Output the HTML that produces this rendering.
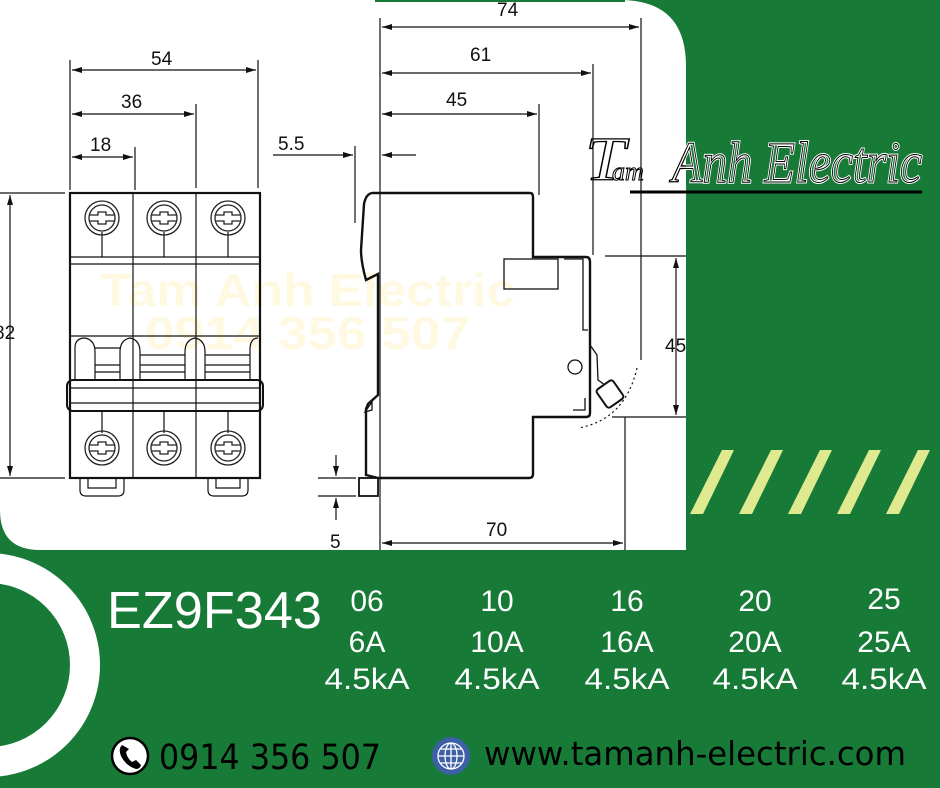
<!DOCTYPE html>
<html><head><meta charset="utf-8"><style>
html,body{margin:0;padding:0;}
body{width:940px;height:788px;overflow:hidden;background:#187a37;position:relative;font-family:"Liberation Sans",sans-serif;}
svg{position:absolute;left:0;top:0;}
</style></head><body>
<svg width="940" height="788" viewBox="0 0 940 788">
<defs>
<clipPath id="wclip"><path d="M0,0 H620 Q686,0 686,66 V550 H40 Q0,550 0,510 Z"/></clipPath>
<clipPath id="gclip"><rect x="686" y="0" width="254" height="300"/></clipPath>
<clipPath id="wlogo"><rect x="0" y="0" width="686" height="300"/></clipPath>
<marker id="a" viewBox="0 0 10 6" refX="10" refY="3" markerWidth="10" markerHeight="6" orient="auto-start-reverse" markerUnits="userSpaceOnUse"><path d="M0,0 L10,3 L0,6 Z" fill="#111"/></marker>
<g id="screw" fill="none" stroke="#222" stroke-width="1.3">
<circle r="17"/><circle r="13"/>
<path d="M-12,-3 H-4 V-6 H4 V-3 H12 M-12,3 H-4 V6 H4 V3 H12"/>
</g>
</defs>
<rect x="0" y="0" width="940" height="788" fill="#187a37"/>
<path d="M0,0 H620 Q686,0 686,66 V550 H40 Q0,550 0,510 Z" fill="#fff"/>
<rect x="375" y="0" width="250" height="2" fill="#187a37"/>

<circle cx="-12" cy="665" r="97" fill="none" stroke="#fff" stroke-width="30"/>

<g fill="#dfe98f">
<polygon points="722,450 734,450 703,514 690,514"/>
<polygon points="771,450 783,450 752,514 739,514"/>
<polygon points="820,450 832,450 801,514 788,514"/>
<polygon points="869,450 881,450 850,514 837,514"/>
<polygon points="918,450 930,450 899,514 886,514"/>
</g>

<g clip-path="url(#wclip)">
<g font-family="Liberation Sans" font-size="46" fill="#ffe680" opacity="0.22" font-weight="bold">
<text x="100" y="306" textLength="415" lengthAdjust="spacingAndGlyphs">Tam Anh Electric</text>
<text x="145" y="349" textLength="325" lengthAdjust="spacingAndGlyphs">0914 356 507</text>
</g>

<g stroke="#111" fill="none" stroke-width="1.2">
<line x1="70" y1="60" x2="70" y2="190"/>
<line x1="258" y1="60" x2="258" y2="188"/>
<line x1="196" y1="104" x2="196" y2="188"/>
<line x1="135" y1="147" x2="135" y2="190"/>
<line x1="72" y1="70" x2="256" y2="70" marker-start="url(#a)" marker-end="url(#a)"/>
<line x1="72" y1="114" x2="194" y2="114" marker-start="url(#a)" marker-end="url(#a)"/>
<line x1="72" y1="157" x2="133" y2="157" marker-start="url(#a)" marker-end="url(#a)"/>
<line x1="0" y1="193" x2="65" y2="193"/>
<line x1="0" y1="478" x2="65" y2="478"/>
<line x1="10" y1="195" x2="10" y2="476" marker-start="url(#a)" marker-end="url(#a)"/>
</g>
<g font-size="19" fill="#111">
<text x="151" y="65">54</text>
<text x="121" y="108">36</text>
<text x="90" y="151">18</text>
<text x="-6" y="339">82</text>
<text x="278" y="150">5.5</text>
<text x="497" y="16">74</text>
<text x="470" y="61">61</text>
<text x="446" y="106">45</text>
<text x="665" y="352">45</text>
<text x="486" y="536">70</text>
<text x="330" y="548">5</text>
</g>

<g stroke="#111" fill="none">
<rect x="70" y="193" width="190" height="285" stroke-width="2.2"/>
<g stroke-width="1.2">
<line x1="133" y1="193" x2="133" y2="478"/>
<line x1="196" y1="193" x2="196" y2="478"/>
<line x1="70" y1="257" x2="260" y2="257"/>
<line x1="70" y1="264" x2="260" y2="264"/>
<line x1="102" y1="232" x2="102" y2="257"/><line x1="164" y1="232" x2="164" y2="257"/><line x1="228" y1="232" x2="228" y2="257"/>
<line x1="102" y1="411" x2="102" y2="433"/><line x1="164" y1="411" x2="164" y2="433"/><line x1="228" y1="411" x2="228" y2="433"/>
<line x1="70" y1="336" x2="260" y2="336"/>
<path d="M75,380 V348 Q75,338 85,338 Q95,340 95,352 V380 M120,380 V352 Q120,340 130,338 Q140,340 140,352 V380 M185,380 V352 Q185,340 195,338 Q205,340 205,352 V380 M250,380 V350 Q250,338 258,338"/>
<path d="M95,348 H120 M95,365 H120 M95,372 H120 M140,355 H185 M140,365 H185 M140,372 H185 M205,355 H250 M205,365 H250 M205,372 H250"/>
<rect x="67" y="380" width="196" height="31" rx="6" stroke-width="2"/>
<line x1="70" y1="388" x2="260" y2="388"/>
<line x1="70" y1="403" x2="260" y2="403"/>
<path d="M80,478 V490 Q80,496 86,496 H118 Q124,496 124,490 V478 M88,478 V488 H116 V478"/>
<path d="M208,478 V490 Q208,496 214,496 H242 Q248,496 248,490 V478 M216,478 V488 H240 V478"/>
</g>
</g>
<use href="#screw" x="102" y="218"/><use href="#screw" x="164" y="218"/><use href="#screw" x="228" y="218"/>
<use href="#screw" x="102" y="448"/><use href="#screw" x="164" y="448"/><use href="#screw" x="228" y="448"/>

<g stroke="#111" fill="none" stroke-width="1.2">
<line x1="380" y1="18" x2="380" y2="550"/>
<line x1="641" y1="18" x2="641" y2="360"/>
<line x1="593" y1="64" x2="593" y2="255"/>
<line x1="539" y1="104" x2="539" y2="195"/>
<line x1="355" y1="146" x2="355" y2="223"/>
<line x1="382" y1="27" x2="639" y2="27" marker-start="url(#a)" marker-end="url(#a)"/>
<line x1="382" y1="73" x2="591" y2="73" marker-start="url(#a)" marker-end="url(#a)"/>
<line x1="382" y1="114" x2="537" y2="114" marker-start="url(#a)" marker-end="url(#a)"/>
<line x1="273" y1="155" x2="353" y2="155" marker-end="url(#a)"/>
<line x1="416" y1="155" x2="382" y2="155" marker-end="url(#a)"/>
<line x1="605" y1="256" x2="690" y2="256"/>
<line x1="612" y1="417" x2="690" y2="417"/>
<line x1="676" y1="258" x2="676" y2="415" marker-start="url(#a)" marker-end="url(#a)"/>
<line x1="625" y1="417" x2="625" y2="550"/>
<line x1="382" y1="543" x2="623" y2="543" marker-start="url(#a)" marker-end="url(#a)"/>
<line x1="318" y1="478" x2="356" y2="478"/>
<line x1="318" y1="496" x2="356" y2="496"/>
<line x1="336" y1="455" x2="336" y2="476" marker-end="url(#a)"/>
<line x1="336" y1="520" x2="336" y2="498" marker-end="url(#a)"/>
<path d="M637,368 Q625,420 578,428" stroke-dasharray="2,3"/>
</g>
<g stroke="#111" fill="none" stroke-width="2.4">
<path d="M372,193 H530 Q533,193 533,197 V257 H586 Q590,257 590,262 V413 Q590,417 586,417 H533 V474 Q533,478 529,478 H378"/>
<path d="M372,193 Q366,194 364,204 L361,250 Q361,262 366,280 L378,274 V395 L368,404 L366,409 V475 L378,478"/>
<rect x="359" y="478" width="19" height="18" stroke-width="1.8"/>
</g>
<g stroke="#111" fill="none" stroke-width="1.3">
<rect x="504" y="259" width="54" height="30"/>
<path d="M564,259 H583 V330 H588"/>
<circle cx="575" cy="367" r="7"/>
<path d="M590,345 L597,355 L598,380 L605,385"/>
<path d="M573,410 H585 V398"/>
<rect x="600" y="383" width="20" height="22" rx="3" transform="rotate(-35 610 394)" stroke-width="2"/>
<path d="M365,412 L372,402 L372,410 Z"/>
</g>
</g>

<!-- logo -->
<line x1="630" y1="192" x2="922" y2="192" stroke="#000" stroke-width="3"/>
<g font-family="Liberation Serif" font-style="italic" fill="none">
<text x="585" y="180" font-size="62" textLength="40" lengthAdjust="spacingAndGlyphs" stroke="#000" stroke-width="1.3">T</text>
<text x="612" y="180" font-size="26" stroke="#000" stroke-width="1">am</text>
<g clip-path="url(#wlogo)"><text x="672" y="182" font-size="58" textLength="250" lengthAdjust="spacingAndGlyphs" stroke="#000" stroke-width="1.3">Anh Electric</text></g>
<g clip-path="url(#gclip)"><text x="672" y="182" font-size="58" textLength="250" lengthAdjust="spacingAndGlyphs" stroke="#fff" stroke-width="3">Anh Electric</text><text x="672" y="182" font-size="58" textLength="250" lengthAdjust="spacingAndGlyphs" stroke="#000" stroke-width="1">Anh Electric</text></g>
</g>

<text x="107" y="628" font-size="52" fill="#fff" textLength="215" lengthAdjust="spacingAndGlyphs">EZ9F343</text>
<g font-size="30" fill="#fff" text-anchor="middle">
<text x="367" y="611">06</text><text x="367" y="652">6A</text><text x="367" y="689" textLength="85" lengthAdjust="spacingAndGlyphs">4.5kA</text>
<text x="497" y="611">10</text><text x="497" y="652">10A</text><text x="497" y="689" textLength="85" lengthAdjust="spacingAndGlyphs">4.5kA</text>
<text x="627" y="611">16</text><text x="627" y="652">16A</text><text x="627" y="689" textLength="85" lengthAdjust="spacingAndGlyphs">4.5kA</text>
<text x="755" y="611">20</text><text x="755" y="652">20A</text><text x="755" y="689" textLength="85" lengthAdjust="spacingAndGlyphs">4.5kA</text>
<text x="884" y="609">25</text><text x="884" y="652">25A</text><text x="884" y="689" textLength="85" lengthAdjust="spacingAndGlyphs">4.5kA</text>
</g>
<circle cx="130" cy="756" r="18" fill="#fff" stroke="#000" stroke-width="2.5"/>
<path d="M122,745 Q118,749 121,756 Q126,766 136,769 Q140,769 141,765 L136,760 L132,762 Q127,758 126,752 L129,749 Z" fill="#000"/>
<text x="159" y="769" font-size="35" fill="#000" font-family="DejaVu Sans" textLength="222" lengthAdjust="spacingAndGlyphs">0914 356 507</text>
<circle cx="451" cy="756" r="19" fill="#3c5fa6"/>
<g stroke="#fff" stroke-width="1.3" fill="none">
<circle cx="451" cy="756" r="13"/><ellipse cx="451" cy="756" rx="6" ry="13"/>
<line x1="438" y1="756" x2="464" y2="756"/><line x1="451" y1="743" x2="451" y2="769"/>
<line x1="440" y1="749" x2="462" y2="749"/><line x1="440" y1="763" x2="462" y2="763"/>
</g>
<text x="484" y="765" font-size="33" fill="#000" font-family="DejaVu Sans" textLength="422" lengthAdjust="spacingAndGlyphs">www.tamanh-electric.com</text>
</svg>
</body></html>
